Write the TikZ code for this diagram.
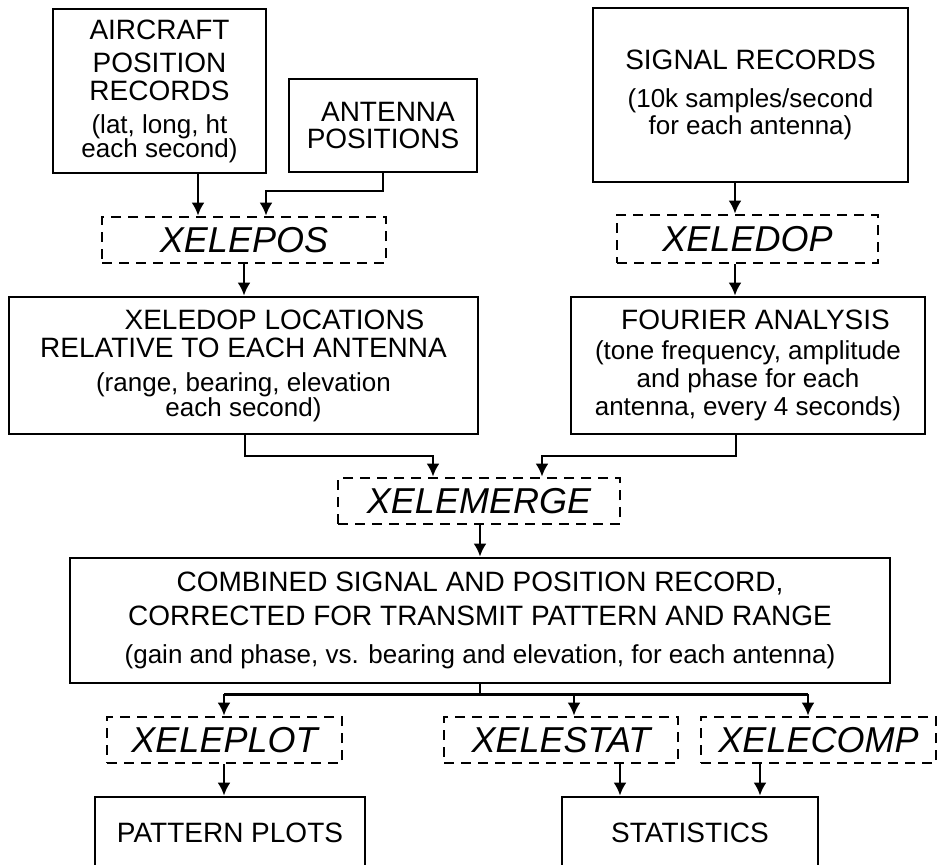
\documentclass[tikz,border=0pt]{standalone}
\usepackage{fontspec}
\setmainfont{Liberation Sans}
\usetikzlibrary{arrows.meta}
\tikzset{>={Latex[length=6.5pt,width=6.5pt]}}
\newcommand{\detail}{\fontsize{13}{14}\selectfont}

\begin{document}
\begin{tikzpicture}[x=0.5pt, y=-0.5pt,
    box/.style={draw, line width=1.4pt, align=center, inner sep=0pt, font=\fontsize{14}{14}\selectfont},
    prog/.style={draw, line width=1.4pt, dash pattern=on 5pt off 3.5pt, inner sep=0pt, minimum height=23pt, font=\fontsize{18}{18}\selectfont\itshape},
    link/.style={->, line width=1.2pt}]
    \useasboundingbox (0,0) rectangle (943,864);
    \node[box, minimum width=106.5pt, minimum height=82pt] (air) at (159.5,91) {AIRCRAFT\\[2.5pt] POSITION\\ RECORDS\\[2.5pt] {\detail (lat, long, ht}\\[-2pt] {\detail each second)}};
    \node[box, minimum width=94pt, minimum height=46.5pt] (ant) at (383,125.5) {\hspace*{5pt}ANTENNA\\[-0.5pt] POSITIONS};
    \node[box, minimum width=157.5pt, minimum height=87pt] (sig) at (750.5,95) {SIGNAL RECORDS\\[5pt] {\detail (10k samples/second}\\[-0.5pt] {\detail for each antenna)}};
    \node[prog, minimum width=142pt] (pos) at (244,240) {XELEPOS};
    \node[prog, minimum width=130.5pt, minimum height=24pt] (dop) at (747.5,239) {XELEDOP};
    \node[box, minimum width=234.5pt, minimum height=68.5pt] (loc) at (243.5,365.5) {\hspace*{31pt}XELEDOP LOCATIONS\\ RELATIVE TO EACH ANTENNA\\[3pt] {\detail (range, bearing, elevation}\\[-1.5pt] {\detail each second)}};
    \node[box, minimum width=177pt, minimum height=68.5pt] (four) at (748,365.5) {\hspace*{7.5pt}FOURIER ANALYSIS\\[1pt] {\detail (tone frequency, amplitude}\\ {\detail and phase for each}\\ {\detail antenna, every 4 seconds)}};
    \node[prog, minimum width=141pt] (merge) at (479,501) {XELEMERGE};
    \node[box, minimum width=410pt, minimum height=62.5pt] (comb) at (480,620.5) {COMBINED SIGNAL AND POSITION RECORD,\\[3pt] CORRECTED FOR TRANSMIT PATTERN AND RANGE\\[5pt] {\detail (gain and phase, vs. bearing and elevation, for each antenna)}};
    \node[prog, minimum width=117.5pt] (plot) at (224.5,740) {XELEPLOT};
    \node[prog, minimum width=117pt] (stat) at (561,740) {XELESTAT};
    \node[prog, minimum width=117.5pt] (comp) at (818.5,740) {XELECOMP};
    \node[box, minimum width=135pt, minimum height=35.5pt] (pat) at (230,832.5) {PATTERN PLOTS};
    \node[box, minimum width=128pt, minimum height=35.5pt] (stats) at (690,832.5) {STATISTICS};
    \draw[link] (air.south -| 198,0) -- (pos.north -| 198,0);
    \draw[link] (ant.south) |- (266,191) -- (pos.north -| 266,0);
    \draw[link] (pos.south) -- (pos.south |- loc.north);
    \draw[link] (sig.south -| 735,0) -- (dop.north -| 735,0);
    \draw[link] (dop.south -| 735,0) -- (four.north -| 735,0);
    \draw[link] (loc.south -| 245,0) |- (433,456) -- (merge.north -| 433,0);
    \draw[link] (four.south -| 736,0) |- (542,456) -- (merge.north -| 542,0);
    \draw[link] (merge.south -| 480,0) -- (comb.north);
    \draw[line width=1.2pt] (comb.south) -- ++(0,10) coordinate (fork);
    \draw[line width=1.2pt] (fork -| 224,0) -- (fork -| 808,0);
    \foreach \n/\x in {plot/224, stat/574, comp/808}
    \draw[link] (fork -| \x,0) -- (\n.north -| \x,0);
    \draw[link] (plot.south -| 224,0) -- (pat.north -| 224,0);
    \draw[link] (stat.south -| 620,0) -- (stats.north -| 620,0);
    \draw[link] (comp.south -| 760,0) -- (stats.north -| 760,0);
\end{tikzpicture}
\end{document}
